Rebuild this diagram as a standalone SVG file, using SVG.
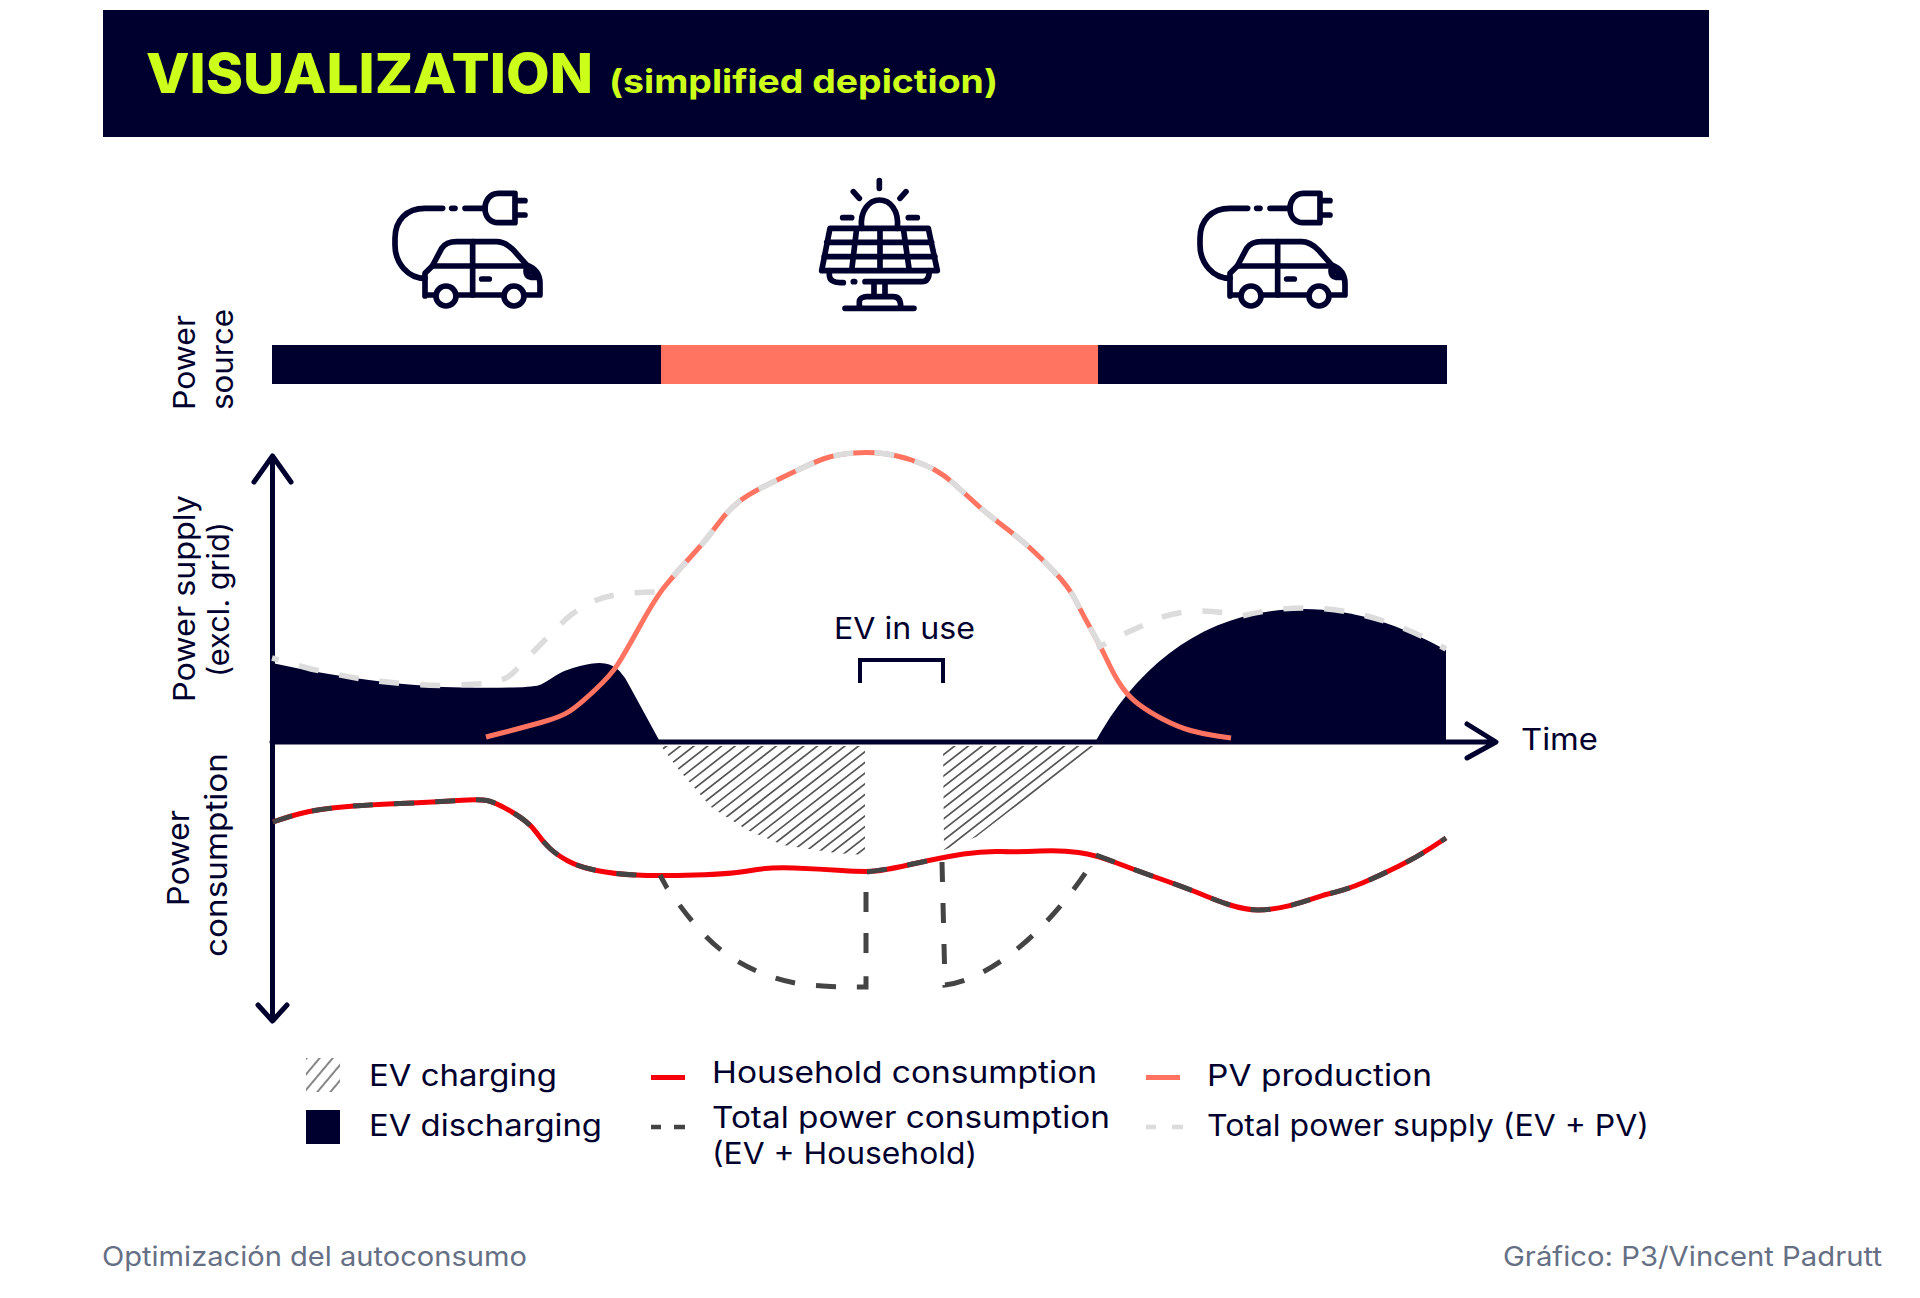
<svg xmlns="http://www.w3.org/2000/svg" width="1920" height="1298" viewBox="0 0 1920 1298">
<style>
text{font-family:"Inter","Noto Sans","Liberation Sans",sans-serif}
.lab{font-size:30px;fill:#00002e;font-weight:400}
.foot{font-size:27px;fill:#667085}
.ttl{fill:#ccff1a;font-weight:800}
.navy{fill:#00002e}
.ico{fill:none;stroke:#00002e;stroke-width:17;stroke-linecap:round;stroke-linejoin:round}
.ax{fill:none;stroke:#00002e;stroke-width:5;stroke-linecap:round;stroke-linejoin:round}
.pv{fill:none;stroke:#ff7360;stroke-width:5;stroke-linejoin:round}
.sup{fill:none;stroke:#dcdcdc;stroke-width:5.500;stroke-dasharray:20 21}
.hh{fill:none;stroke:#f50008;stroke-width:5;stroke-linejoin:round}
.tot{fill:none;stroke:#444;stroke-width:5;stroke-dasharray:20 21}
</style>
<defs>
<pattern id="hatch2" width="10" height="10" patternUnits="userSpaceOnUse" patternTransform="rotate(-50)"><rect width="10" height="10" fill="#fff"/><line x1="0" y1="5" x2="10" y2="5" stroke="#707070" stroke-width="1.700"/></pattern>
<clipPath id="charge"><path d="M661 746L679 770L711 807L747 830L783 845L836 853L865 855V746Z"/><path d="M943 746H1094L1065 773L1011 810L976 837L944 850Z"/></clipPath>
<g id="car">
<path d="M218 115H165C110 115 75 150 75 205V225C75 280 115 325 165 325"/>
<path d="M245 115H255M285 115H345"/>
<path d="M435 70H385C358 70 345 95 345 115C345 140 360 158 385 158H435ZM435 92H465M435 135H465"/>
<path d="M165 378V310L187 288L215 235C225 220 240 215 260 215H380C400 215 415 225 430 240L470 285C495 295 510 315 510 340V375H465M400 375H262M195 375H165"/>
<circle cx="228" cy="378" r="30"/><circle cx="432" cy="378" r="30"/>
<path d="M187 288H470M308 215V375M335 327H358M468 302C485 302 498 310 500 322H482C472 320 468 312 468 302Z"/>
</g>
</defs>
<rect width="1920" height="1298" fill="#fff"/>
<g id="banner">
<rect class="navy" x="103" y="10" width="1606" height="127"/>
<text class="ttl" x="146" y="93" font-size="55" textLength="447" lengthAdjust="spacingAndGlyphs">VISUALIZATION</text>
<text class="ttl" x="609" y="93" font-size="33" style="font-weight:700" textLength="389" lengthAdjust="spacingAndGlyphs">(simplified depiction)</text>
</g>
<g id="icon-car-left" class="ico" transform="translate(370,170) scale(.3333)"><use href="#car"/></g>
<g id="icon-solar" class="ico" transform="translate(800,170) scale(.3333)">
<path d="M238 32V55M160 65L178 85M318 65L300 85M128 143H155M325 143H352"/>
<path d="M185 175C178 120 210 90 238 90C270 90 298 120 292 175"/>
<path d="M90 175H385L412 302H65ZM80 217H395M72 260H405M170 175L155 302M240 175V302M310 175L328 302"/>
<path d="M88 302V315C88 330 100 338 120 338H130M160 335H164M195 335H365C380 335 388 325 388 302"/>
<path d="M222 340V380M255 340V380M178 410V395C178 385 190 380 200 380H280C295 380 302 390 302 410M135 415H342"/>
</g>
<g id="icon-car-right" class="ico" transform="translate(1175,170) scale(.3333)"><use href="#car"/></g>
<g id="source-bar">
<rect class="navy" x="272" y="345" width="389" height="39"/>
<rect x="661" y="345" width="437" height="39" fill="#ff7360"/>
<rect class="navy" x="1098" y="345" width="349" height="39"/>
</g>
<g id="axis-labels">
<text class="lab" transform="translate(195,410) rotate(-90)" textLength="95" lengthAdjust="spacingAndGlyphs">Power</text>
<text class="lab" transform="translate(233,410) rotate(-90)" textLength="101" lengthAdjust="spacingAndGlyphs">source</text>
<text class="lab" transform="translate(195,702) rotate(-90)" textLength="207" lengthAdjust="spacingAndGlyphs">Power supply</text>
<text class="lab" transform="translate(229,677) rotate(-90)" textLength="155" lengthAdjust="spacingAndGlyphs">(excl. grid)</text>
<text class="lab" transform="translate(189,906) rotate(-90)" textLength="96" lengthAdjust="spacingAndGlyphs">Power</text>
<text class="lab" transform="translate(227,957) rotate(-90)" textLength="204" lengthAdjust="spacingAndGlyphs">consumption</text>
<text class="lab" x="1521" y="750" textLength="77" lengthAdjust="spacingAndGlyphs">Time</text>
<text class="lab" x="834" y="639" textLength="141" lengthAdjust="spacingAndGlyphs">EV in use</text>
</g>
<g id="areas">
<path class="navy" d="M272 744V663L296 668Q321 673 351 677.500Q382 682 409 684.500Q436 687 462 687.500Q489 688 512 687.500Q536 687 541 684.500Q546 682 555 676Q564 670 580 666Q596 662 605 663.500Q614 665 619.500 671Q625 677 629 685L659 740V744Z"/>
<path class="navy" d="M1094 744C1140 660 1210 609 1303 609C1355 609 1400 625 1446 650V744Z"/>
<path clip-path="url(#charge)" fill="none" stroke="#555" stroke-width="1.700" d="M640 745.300l460-358.800M640 756l460-358.800M640 766.700l460-358.800M640 777.400l460-358.800M640 788.100l460-358.800M640 798.800l460-358.800M640 809.500l460-358.800M640 820.200l460-358.800M640 830.900l460-358.800M640 841.600l460-358.800M640 852.300l460-358.800M640 863l460-358.800M640 873.700l460-358.800M640 884.400l460-358.800M640 895.100l460-358.800M640 905.800l460-358.800M640 916.500l460-358.800M640 927.200l460-358.800M640 937.900l460-358.800M640 948.600l460-358.800M640 959.300l460-358.800M640 970l460-358.800M640 980.700l460-358.800M640 991.400l460-358.800M640 1002.100l460-358.800M640 1012.800l460-358.800M640 1023.500l460-358.800M640 1034.200l460-358.800M640 1044.900l460-358.800M640 1055.600l460-358.800M640 1066.300l460-358.800M640 1077l460-358.800M640 1087.700l460-358.800M640 1098.400l460-358.800M640 1109.100l460-358.800M640 1119.800l460-358.800M640 1130.500l460-358.800M640 1141.200l460-358.800M640 1151.900l460-358.800M640 1162.600l460-358.800M640 1173.300l460-358.800M640 1184l460-358.800M640 1194.700l460-358.800M640 1205.400l460-358.800M640 1216.100l460-358.800"/>
</g>
<g id="connectors">
<path class="ax" d="M272.500 456V1020M254 482L272.500 456L291 482M258 1005L272.500 1021L287 1005"/>
<path class="ax" d="M272 742H1495M1467 724L1496 742L1467 758"/>
<path class="ax" style="stroke-width:4;stroke-linecap:butt;stroke-linejoin:miter" d="M860 683V660H943V683"/>
<path class="pv" d="M486 737L503.500 732.500Q521 728 541 722.500Q561 717 570 711Q579 705 595 690Q611 675 618 664Q625 653 640.500 625Q656 597 666 585Q676 573 691 556.500Q706 540 711.500 532.500Q717 525 723 517.500Q729 510 738 502.500Q747 495 765 486Q783 477 801 468.500Q819 460 829.500 457Q840 454 854.500 453Q869 452 883 453.500Q897 455 911.500 460Q926 465 935 470Q944 475 952.500 482.500Q961 490 973.500 501.500Q986 513 1002.500 525.500Q1019 538 1029.500 547.500Q1040 557 1054.500 572Q1069 587 1076 601Q1083 615 1092 631Q1101 647 1108 662Q1115 677 1122 687Q1129 697 1139 704.500Q1149 712 1163.500 719.500Q1178 727 1190.500 730.500Q1203 734 1217 736L1231 738"/>
<path class="sup" stroke-dashoffset="13" d="M272 658L311 669Q352 678 372.500 680.500Q393 683 414.500 684.500Q436 686 456.500 685Q477 684 491 683Q506 680 514 672L537 648L552 633L566 619Q582 606 594 601Q606 596 622 594Q640 592 659 592"/>
<path class="sup" d="M673 576Q676 573 691 556.500Q706 540 711.500 532.500Q717 525 723 517.500Q729 510 738 502.500Q747 495 765 486Q783 477 801 468.500Q819 460 829.500 457Q840 454 854.500 453Q869 452 883 453.500Q897 455 911.500 460Q926 465 935 470Q944 475 952.500 482.500Q961 490 973.500 501.500Q986 513 1002.500 525.500Q1019 538 1029.500 547.500Q1040 557 1054.500 572Q1069 587 1076 601Q1083 615 1092 631L1100 645"/>
<path class="sup" stroke-dashoffset="10" d="M1097 648L1126 633L1144 625C1160 616 1180 611 1201 611C1215 611 1228 613 1242 616C1262 611 1282 608 1303 608C1355 608 1400 623 1446 649"/>
<path class="hh" d="M273 822Q293 815 307 812Q321 809 342.500 807Q364 805 400 803.500Q436 802 457.500 800.500Q479 799 487 800.500Q495 802 512 812Q529 822 536 832Q543 842 550 848.500Q557 855 568 861Q579 867 596.500 870.500Q614 874 635.500 875Q657 876 695 875Q733 874 751 870.500Q769 867 794 868Q819 869 842 870.500Q865 872 875.500 871Q886 870 915 863.500Q944 857 963.500 854Q983 851 1001 851.500Q1019 852 1040 851Q1061 850 1078.500 852.500Q1096 855 1115.500 862.500Q1135 870 1156.500 877.500Q1178 885 1196 892C1220 902 1240 910 1258 910C1280 910 1300 903 1326 894.500Q1346 890 1363.500 882.500Q1381 875 1399 866Q1417 857 1431.500 847.500L1446 838"/>
<path class="tot" d="M273 822Q293 815 307 812Q321 809 342.500 807Q364 805 400 803.500Q436 802 457.500 800.500Q479 799 487 800.500Q495 802 512 812Q529 822 536 832Q543 842 550 848.500Q557 855 568 861Q579 867 596.500 870.500Q614 874 635.500 875L657 876"/>
<path class="tot" stroke-dashoffset="5" d="M660 875L667 888L679.500 905Q692 922 706 936.500Q720 951 738 961.500Q756 972 775 978Q794 984 814.500 985.500Q835 987 850 987H866V975"/>
<path class="tot" d="M866 953V872Q886 870 915 863.500L942 858"/>
<path class="tot" d="M942 862L945 985C985 980 1040 940 1086 872"/>
<path class="tot" d="M1096 855L1115.500 862.500Q1135 870 1156.500 877.500Q1178 885 1196 892C1220 902 1240 910 1258 910C1280 910 1300 903 1326 894.500Q1346 890 1363.500 882.500Q1381 875 1399 866Q1417 857 1431.500 847.500L1446 838"/>
</g>
<g id="legend">
<rect x="306" y="1058" width="34" height="34" fill="url(#hatch2)"/>
<rect class="navy" x="306" y="1110" width="34" height="34"/>
<text class="lab" x="369" y="1086" textLength="188" lengthAdjust="spacingAndGlyphs">EV charging</text>
<text class="lab" x="369" y="1136" textLength="233" lengthAdjust="spacingAndGlyphs">EV discharging</text>
<rect x="651" y="1075" width="34" height="5" fill="#f50008"/>
<path d="M651 1127H661M674 1127H685" stroke="#444" stroke-width="4.500" fill="none"/>
<text class="lab" x="712" y="1083" textLength="385" lengthAdjust="spacingAndGlyphs">Household consumption</text>
<text class="lab" x="712" y="1128" textLength="398" lengthAdjust="spacingAndGlyphs">Total power consumption</text>
<text class="lab" x="712" y="1164" textLength="265" lengthAdjust="spacingAndGlyphs">(EV + Household)</text>
<rect x="1146" y="1075" width="34" height="5" fill="#ff7360"/>
<path d="M1146 1127H1156M1172 1127H1183" stroke="#dcdcdc" stroke-width="4.500" fill="none"/>
<text class="lab" x="1207" y="1086" textLength="225" lengthAdjust="spacingAndGlyphs">PV production</text>
<text class="lab" x="1207" y="1136" textLength="442" lengthAdjust="spacingAndGlyphs">Total power supply (EV + PV)</text>
</g>
<g id="footer">
<text class="foot" x="102" y="1266" textLength="425" lengthAdjust="spacingAndGlyphs">Optimización del autoconsumo</text>
<text class="foot" x="1503" y="1266" textLength="379" lengthAdjust="spacingAndGlyphs">Gráfico: P3/Vincent Padrutt</text>
</g>
</svg>
